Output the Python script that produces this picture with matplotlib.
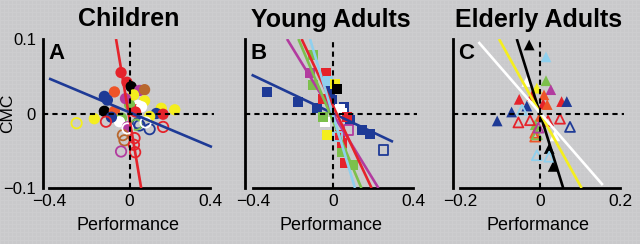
import numpy as np
import matplotlib
matplotlib.use("Agg")
import matplotlib.pyplot as plt

plt.rcParams['font.family'] = ['Liberation Sans', 'DejaVu Sans']

RED = '#e5232b'; BLUE = '#1e3a96'; YEL = '#f4ee1e'; GRN = '#7cc04c'
MAG = '#b23b9f'; CYA = '#8fd0ee'; ORA = '#ee5428'; BRN = '#b8672e'
BLK = '#000000'; WHT = '#ffffff'

titles = ["Children", "Young Adults", "Elderly Adults"]
letters = ["A", "B", "C"]
xlabel = "Performance"
ylabel = "CMC"

# ---- Panel A (children): circles ----
a_fill_x = [-0.042, -0.013, 0.008, -0.075, 0.05, 0.075, -0.125, -0.11, 0.075, 0.042,
            0.158, 0.225, -0.125, -0.075, 0.033, 0.133, 0.167, -0.175, -0.04, -0.05,
            -0.01, 0.0, 0.06, 0.02, -0.02, 0.03, -0.09, 0.1]
a_fill_y = [0.055, 0.042, 0.036, 0.029, 0.031, 0.032, 0.023, 0.018, 0.017, 0.011,
            0.007, 0.005, 0.003, 0.003, 0.005, 0.0, -0.001, -0.007, -0.006, -0.011,
            -0.018, 0.012, 0.009, 0.025, 0.02, 0.002, -0.005, -0.004]
a_fill_c = [RED, RED, BLK, ORA, MAG, BRN, BLUE, BLUE, YEL, WHT,
            YEL, YEL, BLK, ORA, RED, BLUE, RED, YEL, GRN, WHT,
            MAG, GRN, WHT, YEL, MAG, RED, BLUE, YEL]
a_open_x = [-0.263, -0.117, 0.042, 0.05, 0.1, 0.167, 0.033, -0.033, -0.025, 0.025,
            0.022, 0.028, -0.042, -0.01, 0.08]
a_open_y = [-0.013, -0.011, -0.013, -0.016, -0.021, -0.018, -0.015, -0.029, -0.036, -0.033,
            -0.042, -0.052, -0.051, -0.02, -0.012]
a_open_c = [YEL, RED, BLUE, BLUE, BLUE, RED, GRN, BRN, BRN, RED,
            RED, RED, MAG, WHT, WHT]
a_lines_x0 = [-0.067, -0.40]
a_lines_y0 = [0.10, 0.047]
a_lines_x1 = [0.058, 0.41]
a_lines_y1 = [-0.10, -0.045]
a_lines_c = [RED, BLUE]

# ---- Panel B (young adults): squares ----
b_fill_x = [-0.332, -0.173, -0.082, -0.015, -0.007, 0.085, 0.143, 0.185, 0.057,
            -0.098, -0.115, -0.098, -0.035, -0.023, 0.01, 0.022, -0.048, 0.035, 0.043,
            -0.04, -0.052, -0.032, 0.035, 0.043, 0.06, 0.102, 0.043, 0.07]
b_fill_y = [0.029, 0.015, 0.007, 0.03, 0.018, -0.009, -0.022, -0.027, 0.009,
            0.079, 0.054, 0.038, 0.054, 0.043, 0.04, 0.033, 0.02, 0.006, 0.0,
            -0.011, -0.005, -0.029, -0.029, -0.051, -0.067, -0.069, -0.04, -0.005]
b_fill_c = [BLUE, BLUE, BLUE, BLUE, BLUE, BLUE, BLUE, BLUE, BLUE,
            GRN, MAG, GRN, RED, CYA, YEL, BLK, RED, WHT, WHT,
            WHT, GRN, YEL, RED, GRN, RED, GRN, RED, RED]
b_open_x = [0.077, 0.252, 0.023]
b_open_y = [-0.022, -0.049, -0.031]
b_open_c = [MAG, BLUE, CYA]
b_lines_x0 = [-0.407, -0.23, -0.173, -0.157, -0.115]
b_lines_y0 = [0.052, 0.10, 0.10, 0.10, 0.10]
b_lines_x1 = [0.30, 0.227, 0.142, 0.193, 0.11]
b_lines_y1 = [-0.038, -0.10, -0.10, -0.10, -0.10]
b_lines_c = [BLUE, MAG, GRN, RED, CYA]

# ---- Panel C (elderly adults): triangles ----
c_fill_x = [-0.027, 0.015, 0.015, 0.027, -0.008, -0.033, -0.052, 0.054, 0.067,
            -0.033, 0.008, 0.018, -0.071, -0.107, 0.023, 0.033, 0.0, -0.02, 0.01,
            0.037, -0.012]
c_fill_y = [0.092, 0.076, 0.044, 0.032, 0.034, 0.043, 0.019, 0.016, 0.016,
            0.010, 0.013, 0.012, 0.002, -0.010, -0.047, -0.071, -0.004, 0.024, 0.025,
            -0.030, -0.015]
c_fill_c = [BLK, CYA, GRN, MAG, YEL, WHT, RED, RED, BLUE,
            BLUE, RED, ORA, BLUE, BLUE, BLK, BLK, ORA, RED, ORA,
            WHT, GRN]
c_open_x = [-0.054, -0.025, 0.05, 0.075, -0.012, -0.012, -0.008, -0.004, -0.008, 0.023,
            0.02, -0.045]
c_open_y = [-0.012, -0.009, -0.007, -0.018, -0.026, -0.031, -0.028, -0.019, -0.056, -0.058,
            -0.01, 0.005]
c_open_c = [RED, RED, RED, BLUE, ORA, ORA, GRN, MAG, CYA, CYA,
            RED, CYA]
c_lines_x0 = [-0.058, -0.1025, -0.154]
c_lines_y0 = [0.10, 0.10, 0.096]
c_lines_x1 = [0.058, 0.104, 0.157]
c_lines_y1 = [-0.10, -0.10, -0.096]
c_lines_c = [BLK, YEL, WHT]

panels = [
    dict(fx=a_fill_x, fy=a_fill_y, fc=a_fill_c, ox=a_open_x, oy=a_open_y, oc=a_open_c,
         lx0=a_lines_x0, ly0=a_lines_y0, lx1=a_lines_x1, ly1=a_lines_y1, lc=a_lines_c,
         marker='o', xlim=(-0.43, 0.42), xticks=[-0.4, 0, 0.4], xtl=['\u22120.4', '0', '0.4'],
         bounds=(-0.4, 0.4), pos=[43, 214], ms=66),
    dict(fx=b_fill_x, fy=b_fill_y, fc=b_fill_c, ox=b_open_x, oy=b_open_y, oc=b_open_c,
         lx0=b_lines_x0, ly0=b_lines_y0, lx1=b_lines_x1, ly1=b_lines_y1, lc=b_lines_c,
         marker='s', xlim=(-0.44, 0.42), xticks=[-0.4, 0, 0.4], xtl=['\u22120.4', '0', '0.4'],
         bounds=(-0.4, 0.4), pos=[245, 417], ms=52),
    dict(fx=c_fill_x, fy=c_fill_y, fc=c_fill_c, ox=c_open_x, oy=c_open_y, oc=c_open_c,
         lx0=c_lines_x0, ly0=c_lines_y0, lx1=c_lines_x1, ly1=c_lines_y1, lc=c_lines_c,
         marker='^', xlim=(-0.2175, 0.21), xticks=[-0.2, 0, 0.2], xtl=['\u22120.2', '0', '0.2'],
         bounds=(-0.2, 0.2), pos=[453, 624], ms=60),
]

W, H = 640, 244
fig = plt.figure(figsize=(W / 100, H / 100), dpi=100)
BG = '#c9c9cb'
fig.patch.set_facecolor(BG)

# faint paper texture
bgax = fig.add_axes([0, 0, 1, 1], zorder=-10)
tex = np.zeros((H, W, 3)) + np.array([0xc9, 0xc9, 0xcb]) / 255
tex[::4, :, :] = np.array([0xcd, 0xcd, 0xcf]) / 255
tex[:, ::4, :] = np.array([0xcd, 0xcd, 0xcf]) / 255
bgax.imshow(tex, aspect='auto', interpolation='nearest')
bgax.axis('off')

top_px, bot_px = 39, 188
for i, p in enumerate(panels):
    l, r = p['pos']
    ax = fig.add_axes([l / W, (H - bot_px) / H, (r - l) / W, (bot_px - top_px) / H])
    ax.patch.set_alpha(0)
    ax.set_xlim(*p['xlim'])
    ax.set_ylim(-0.1, 0.1)
    for s in ['top', 'right']:
        ax.spines[s].set_visible(False)
    ax.spines['left'].set_linewidth(2.0)
    ax.spines['bottom'].set_linewidth(2.0)
    ax.spines['bottom'].set_bounds(*p['bounds'])
    ax.set_xticks(p['xticks'])
    ax.set_xticklabels(p['xtl'])
    ax.set_yticks([-0.1, 0, 0.1])
    ax.set_yticklabels(['\u22120.1', '0', '0.1'])
    ax.tick_params(length=0, labelsize=12.5, pad=4)
    ax.tick_params(axis='y', pad=5, labelsize=12)
    if i != 0:
        ax.set_yticklabels([])
    else:
        ax.set_ylabel(ylabel, fontsize=12.5)
        ax.yaxis.set_label_coords(-0.165, 0.5)
    ax.set_xlabel(xlabel, fontsize=13, labelpad=6)
    ax.set_title(titles[i], fontsize=18, fontweight='bold', pad=9)
    ax.text(0.03, 0.97, letters[i], transform=ax.transAxes, fontsize=16,
            fontweight='bold', va='top', ha='left')

    ax.scatter(p['fx'], p['fy'], s=p['ms'], c=p['fc'], marker=p['marker'],
               edgecolors='none', zorder=3, clip_on=False)
    ax.scatter(p['ox'], p['oy'], s=p['ms'] * 0.85, facecolors='none', edgecolors=p['oc'],
               marker=p['marker'], linewidths=1.3, zorder=3, clip_on=False)
    for x0, y0, x1, y1, c in zip(p['lx0'], p['ly0'], p['lx1'], p['ly1'], p['lc']):
        ax.plot([x0, x1], [y0, y1], color=c, lw=1.9, zorder=4, solid_capstyle='butt')
    ax.axvline(0, color='black', lw=1.5, ls=(0, (2.5, 2)), zorder=5)
    ax.axhline(0, color='black', lw=1.5, ls=(0, (2.5, 2)), zorder=5)

fig.savefig('out.png', dpi=100, facecolor=BG)
